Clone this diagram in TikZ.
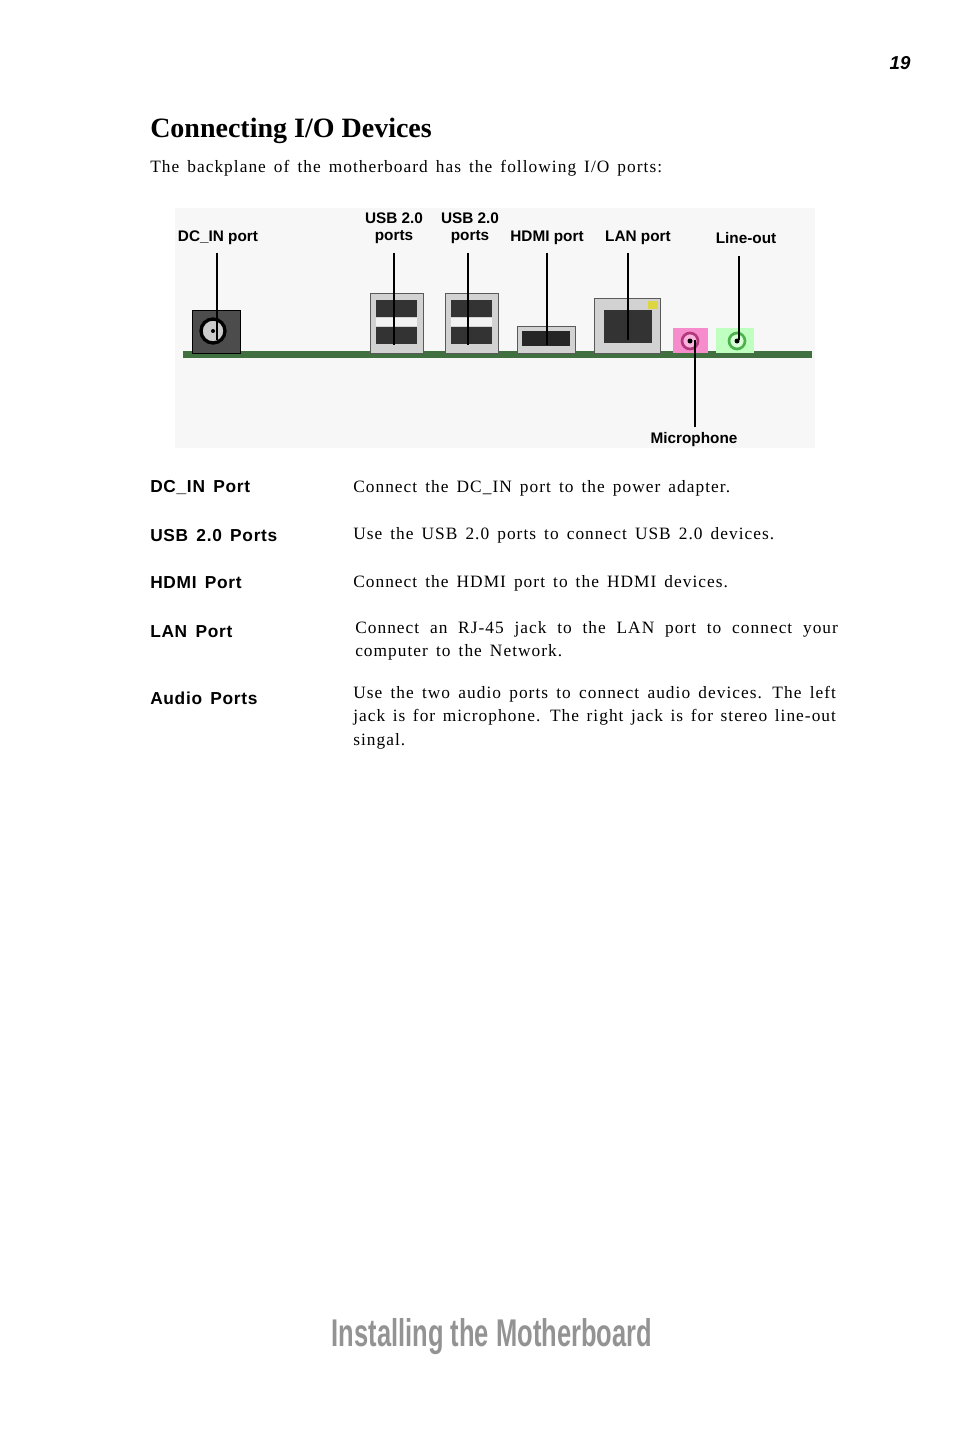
\documentclass[tikz,border=0pt]{standalone}
\usepackage{fontspec}
\setmainfont{Liberation Serif}
\setsansfont{Liberation Sans}
\newfontfamily\bodyfont[LetterSpace=6,WordSpace=1.5]{Liberation Serif}
\newfontfamily\headfont[LetterSpace=4,WordSpace=1.5]{Liberation Sans}
\usetikzlibrary{positioning}
\tikzset{
  lbl/.style={font=\sffamily\bfseries\fontsize{11.5}{13}\selectfont, align=center, inner sep=0pt},
  head/.style={font=\headfont\bfseries\fontsize{13}{15}\selectfont, anchor=west, inner sep=0pt},
  desc/.style={font=\bodyfont\fontsize{13}{17.5}\selectfont, anchor=north west, inner sep=0pt, text width=362pt, align=justify},
  lead/.style={black, line width=0.9pt},
  metal/.style={fill=gray!35, draw=gray!70!black, line width=0.6pt},
}
\begin{document}
\begin{tikzpicture}[x=0.75pt,y=-0.75pt]
\useasboundingbox (0,0) rectangle (954,1430);
%% page header
\node (pagenum) at (900,63) {\fontsize{14}{16}\selectfont\sffamily\bfseries\itshape 19};
\node (title) [anchor=west, inner sep=0pt] at (150,131) {\fontsize{21}{24}\selectfont\bfseries Connecting I/O Devices};
\node (intro) [anchor=west, inner sep=0pt] at (150,168) {\bodyfont\fontsize{13}{16}\selectfont The backplane of the motherboard has the following I/O ports:};
%% board picture
\fill[gray!6] (175,208) rectangle (815,448);
\fill[green!25!black!75] (183,351) rectangle (812,358);
\filldraw[fill=gray!60!black, draw=black] (192,310) rectangle (240,353);
\draw[black, line width=2.5pt, fill=gray!40] (213,331) circle (12);
\fill (213,331) circle (2);
\foreach \xa in {370,445}{
  \filldraw[metal] (\xa,293) rectangle ++(53,60);
  \fill[black!80] (\xa+6,300) rectangle ++(41,17);
  \fill[white!90!gray] (\xa+6,318) rectangle ++(41,8);
  \fill[black!80] (\xa+6,327) rectangle ++(41,17);
}
\filldraw[metal] (517,326) rectangle (575,353);
\fill[black!85] (522,331) rectangle (570,346);
\filldraw[metal] (594,298) rectangle (660,353);
\fill[black!80] (604,310) rectangle (652,343);
\fill[yellow!70!gray] (648,301) rectangle (658,309);
\fill[magenta!45] (673,328) rectangle (708,353);
\draw[magenta!70!black, line width=2pt, fill=magenta!30] (690,341) circle (8);
\fill (690,341) circle (2.5);
\fill[green!25] (716,328) rectangle (754,353);
\draw[green!40!gray, line width=2pt, fill=green!15] (737,341) circle (8);
\fill (737,341) circle (2.5);
%% labels
\node[lbl] (dcin) at (218,238) {DC\_IN port};
\node[lbl] (usbA) at (394,228) {USB 2.0\\ports};
\node[lbl] (usbB) at (470,228) {USB 2.0\\ports};
\node[lbl] (hdmi) at (547,238) {HDMI port};
\node[lbl] (lan) at (638,238) {LAN port};
\node[lbl] (lineout) at (746,238) {Line-out};
\node[lbl] (mic) at (694,440) {Microphone};
\coordinate (dcinE) at (217,340);
\coordinate (usbAE) at (394,345);
\coordinate (usbBE) at (468,345);
\coordinate (hdmiE) at (547,345);
\coordinate (lanE) at (628,340);
\coordinate (lineoutE) at (739,340);
\coordinate (micE) at (695,340);
\draw[lead] (217,253) -- (dcinE);
\draw[lead] (394,253) -- (usbAE);
\draw[lead] (468,253) -- (usbBE);
\draw[lead] (547,253) -- (hdmiE);
\draw[lead] (628,253) -- (lanE);
\draw[lead] (739,256) -- (lineoutE);
\draw[lead] (695,427) -- (micE);
%% port table
\node[head] (hDc) at (150,488) {DC\_IN Port};
\node[head] (hUsb) at (150,536) {USB 2.0 Ports};
\node[head] (hHdmi) at (150,583) {HDMI Port};
\node[head] (hLan) at (150,632) {LAN Port};
\node[head] (hAudio) at (150,698) {Audio Ports};
\node[desc] (dDc) at (353,480) {Connect the DC\_IN port to the power adapter.};
\node[desc] (dUsb) at (353,527) {Use the USB 2.0 ports to connect USB 2.0 devices.};
\node[desc] (dHdmi) at (353,575) {Connect the HDMI port to the HDMI devices.};
\node[desc] (dLan) at (355,621) {Connect an RJ-45 jack to the LAN port to connect your computer to the Network.};
\node[desc] (dAudio) at (353,686) {Use the two audio ports to connect audio devices. The left jack is for microphone. The right jack is for stereo line-out singal.};
%% footer
\node (footer) at (492,1337) {\fontsize{29}{32}\selectfont\sffamily\bfseries\color{gray!85}\scalebox{0.66}[1]{Installing the Motherboard}};
\end{tikzpicture}
\end{document}
